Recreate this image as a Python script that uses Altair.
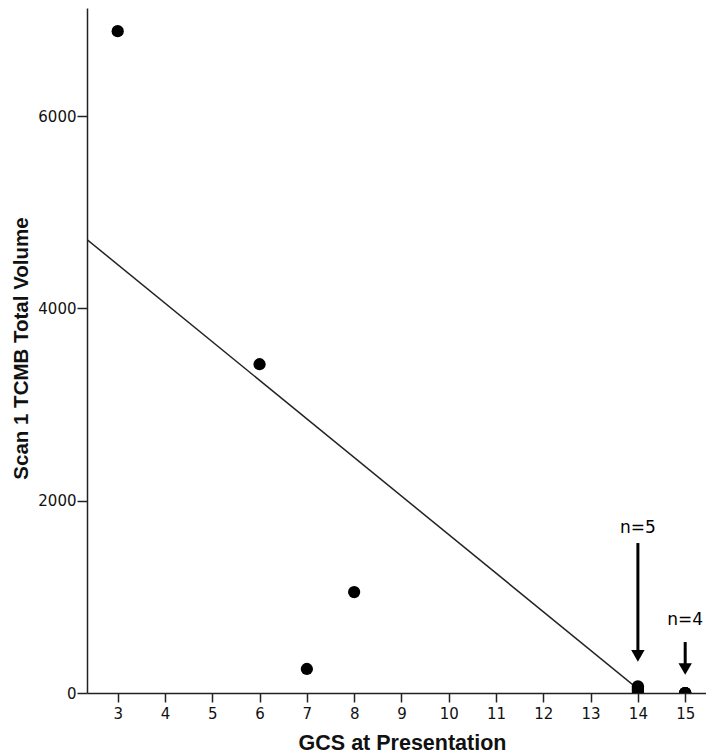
import altair as alt
import pandas as pd

# Data
gcs = [3, 6, 7, 8, 14, 14, 14, 14, 14, 15, 15, 15, 15]
volume = [6885, 3420, 250, 1050, 70, 55, 40, 20, 0, 0, 0, 0, 0]

x_ticks = list(range(3, 16))
y_ticks = [0, 2000, 4000, 6000]

# annotation arrows (n counts)
arrow_x = [14, 15]
arrow_top = [1560, 530]
arrow_head = [386, 250]
label_y = [1716, 760]
labels = ["n=5", "n=4"]

x_domain = [2.351, 15.44]
y_domain = [0, 7126]

pts = pd.DataFrame({"gcs": gcs, "vol": volume})
ann = pd.DataFrame({"x": arrow_x, "top": arrow_top, "head": arrow_head,
                    "ly": label_y, "label": labels})

xs = alt.Scale(domain=x_domain, nice=False, zero=False)
ys = alt.Scale(domain=y_domain, nice=False, zero=False)

x_axis = alt.Axis(values=x_ticks, title="GCS at Presentation", format="d",
                  titleX=315, titleY=56, titleAlign="center",
                  titleBaseline="alphabetic", titleAngle=0)
y_axis = alt.Axis(values=y_ticks, title="Scan 1 TCMB Total Volume", format="d",
                  titleX=-60, titleY=340, titleAlign="center",
                  titleBaseline="alphabetic", titleAngle=270)

fit = alt.Chart(pts).transform_regression(
    "gcs", "vol", extent=x_domain
).mark_line(color="#222222", strokeWidth=1.5, clip=True).encode(
    x=alt.X("gcs:Q", scale=xs, axis=x_axis),
    y=alt.Y("vol:Q", scale=ys, axis=y_axis),
)

points = alt.Chart(pts).mark_circle(size=150, color="black", opacity=1, clip=True).encode(
    x=alt.X("gcs:Q", scale=xs, axis=x_axis),
    y=alt.Y("vol:Q", scale=ys, axis=y_axis),
)

shafts = alt.Chart(ann).mark_rule(color="black", strokeWidth=3).encode(
    x=alt.X("x:Q", scale=xs, axis=x_axis),
    y=alt.Y("top:Q", scale=ys, axis=y_axis),
    y2="head:Q",
)

heads = alt.Chart(ann).mark_point(shape="triangle-down", filled=True, size=180,
                                  color="black", opacity=1).encode(
    x=alt.X("x:Q", scale=xs, axis=x_axis),
    y=alt.Y("head:Q", scale=ys, axis=y_axis),
)

texts = alt.Chart(ann).mark_text(font="DejaVu Sans", fontSize=17, color="black",
                                 baseline="middle", align="center").encode(
    x=alt.X("x:Q", scale=xs, axis=x_axis),
    y=alt.Y("ly:Q", scale=ys, axis=y_axis),
    text="label:N",
)

chart = alt.layer(fit, points, shafts, heads, texts).properties(
    width=619, height=685,
    autosize=alt.AutoSizeParams(type="none"),
    padding={"left": 79, "top": 0, "right": 0, "bottom": 61},
).configure_view(stroke=None).configure_axis(
    grid=False,
    domainColor="#222222", domainWidth=1.5,
    tickColor="#222222", tickWidth=1.5,
    labelFont="DejaVu Sans", labelFontSize=15, labelColor="#111111",
    titleFont="Liberation Sans", titleFontSize=20.5, titleFontWeight="bold",
    titleColor="#111111",
).configure_axisX(
    tickSize=9, labelPadding=4, titleFontSize=21.5,
).configure_axisY(
    tickSize=10, labelPadding=1,
)

chart.save("out.html", embed_options={"renderer": "svg", "actions": False})
